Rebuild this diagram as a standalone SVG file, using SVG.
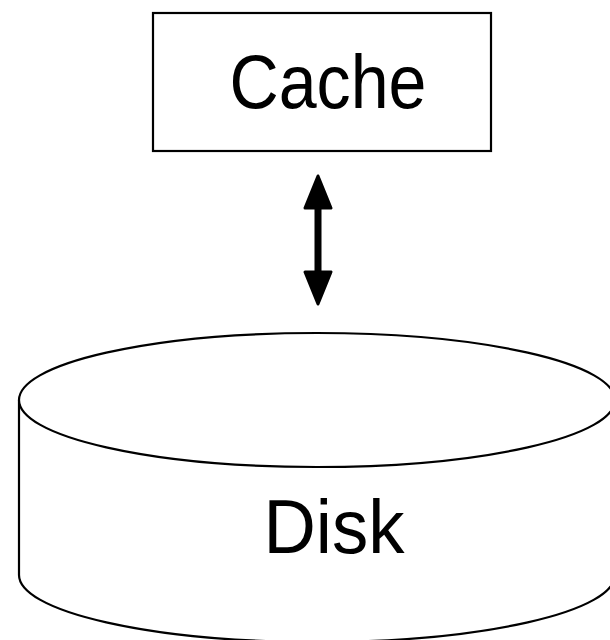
<svg xmlns="http://www.w3.org/2000/svg" width="610" height="640" viewBox="0 0 610 640">
  <style>
    .shape { fill: #fff; stroke: #000; stroke-width: 2.2; }
    .label { font-family: "Liberation Sans", "DejaVu Sans", sans-serif; font-size: 76px; fill: #000; text-anchor: middle; }
    .link { stroke: #000; stroke-width: 7; stroke-linecap: round; fill: none; }
    .head { fill: #000; stroke: #000; stroke-width: 3; stroke-linejoin: round; }
  </style>
  <rect width="610" height="640" fill="#fff"/>

  <g id="cache">
    <rect class="shape" x="153" y="13" width="338" height="138"/>
    <text class="label" x="328" y="108" textLength="197" lengthAdjust="spacingAndGlyphs">Cache</text>
  </g>

  <g id="connectors">
    <line class="link" x1="318" y1="200" x2="318" y2="280"/>
    <path class="head" d="M318,176 L331,208 L305,208 Z"/>
    <path class="head" d="M318,304 L331,272 L305,272 Z"/>
  </g>

  <g id="disk">
    <path class="shape" d="M19,400 L19,575 A298,67 0 0 0 615,575 L615,400"/>
    <ellipse class="shape" cx="317" cy="400" rx="298" ry="67"/>
    <text class="label" x="334" y="553" textLength="141" lengthAdjust="spacingAndGlyphs">Disk</text>
  </g>
</svg>
